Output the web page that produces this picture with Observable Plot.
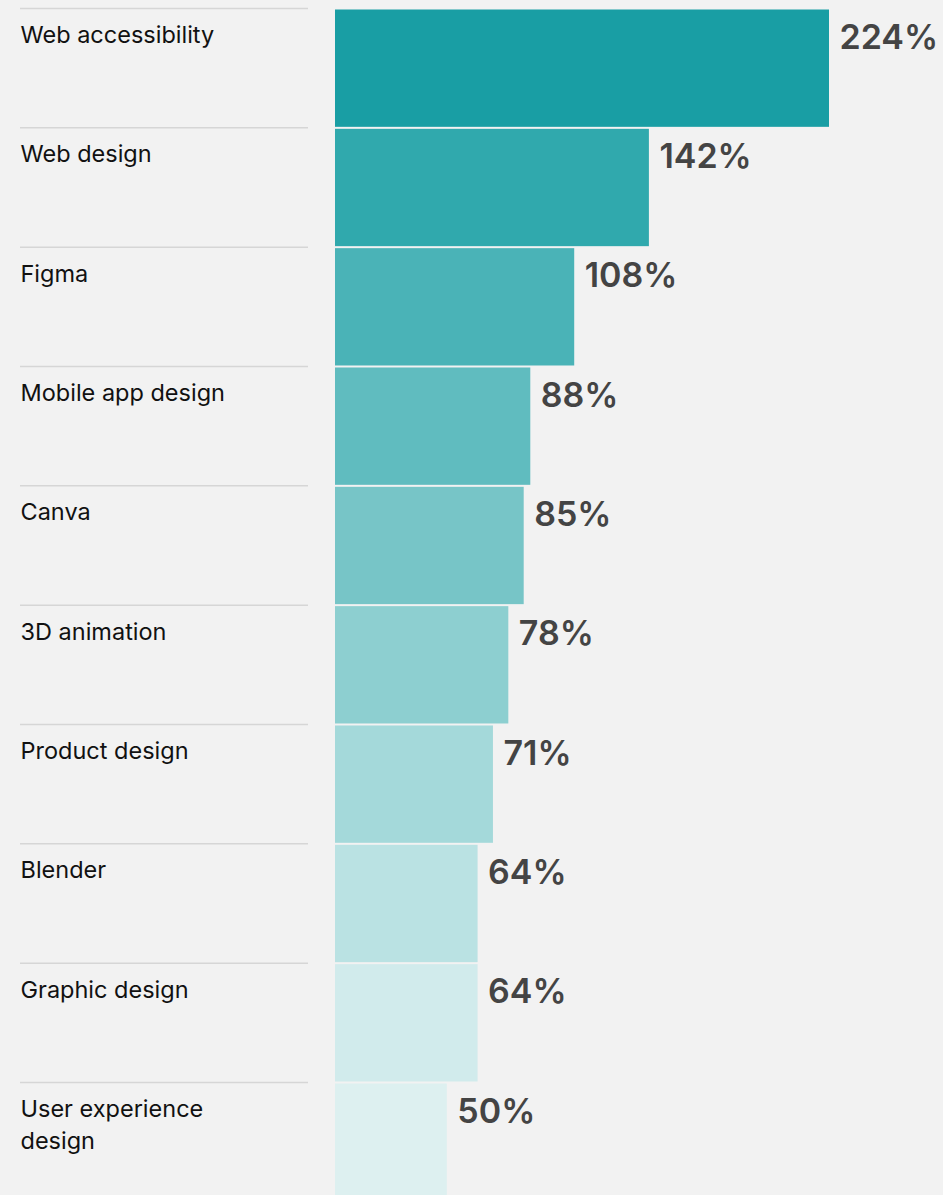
<!DOCTYPE html>
<html>
<head>
<meta charset="utf-8">
<script src="https://cdn.jsdelivr.net/npm/d3@7"></script>
<script src="https://cdn.jsdelivr.net/npm/@observablehq/plot@0.6"></script>
<style>
  html, body { margin: 0; padding: 0; background: #f2f2f2; }
  #chart svg { display: block; }
</style>
</head>
<body>
<div id="chart"></div>
<script>
const categories = ["Web accessibility", "Web design", "Figma", "Mobile app design", "Canva",
  "3D animation", "Product design", "Blender", "Graphic design", "User experience\ndesign"];
const values = [224, 142, 108, 88, 85, 78, 71, 64, 64, 50];
const colors = ["#199ea4", "#30a9ad", "#4ab3b7", "#60bcbf", "#77c5c7", "#8dcfd0", "#a4d9da", "#bae2e3", "#d1ebec", "#ddf0f0"];

const data = categories.map((c, i) => ({cat: c, value: values[i], color: colors[i], label: values[i] + "%"}));

const rowH = 119.33;
const y0 = 8;

const chart = Plot.plot({
  width: 943,
  height: 1195,
  marginTop: 0, marginBottom: 0, marginLeft: 0, marginRight: 0,
  style: {background: "#f2f2f2", fontFamily: "Inter, Liberation Sans, Arial, sans-serif"},
  x: {domain: [0, 224], range: [337, 829], axis: null},
  y: {domain: categories, range: [y0, y0 + rowH * categories.length], padding: 0, round: false, axis: null},
  marks: [
    Plot.ruleY(data, {y: "cat", insetLeft: 20, insetRight: 943 - 308, stroke: "#d6d6d6", strokeWidth: 1.5, dy: -rowH / 2}),
    Plot.barX(data, {y: "cat", x: "value", fill: "color", insetTop: 1.5, insetBottom: 0.5, insetLeft: -2}),
    Plot.text(data, {y: "cat", x: 0, text: "cat", dx: -317, dy: -rowH / 2 + 11.8, lineAnchor: "top",
      textAnchor: "start", fontSize: 23.5, fill: "#111", lineHeight: 1.36}),
    Plot.text(data, {y: "cat", x: "value", text: "label", dx: 10, dy: -rowH / 2 + 16, lineAnchor: "top",
      textAnchor: "start", fontSize: 34, fontWeight: 600, fill: "#444"})
  ]
});
document.getElementById("chart").appendChild(chart);
</script>
</body>
</html>
